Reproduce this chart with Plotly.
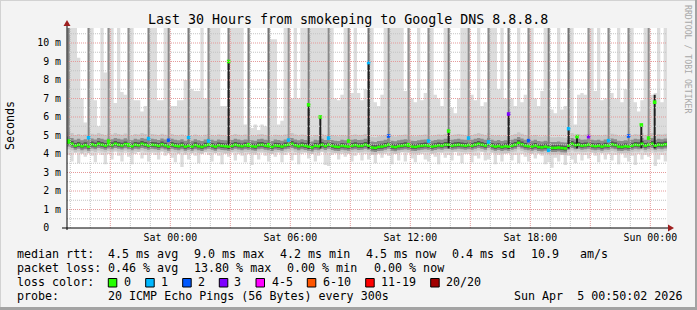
import plotly.graph_objects as go
import pandas as pd

# ---------------- data ----------------
TITLE = "Last 30 Hours from smokeping to Google DNS 8.8.8.8"
T_START = "2026-04-03 18:50:02"
T_END = "2026-04-05 00:50:02"
BIN_START = "2026-04-03 18:50"
BIN_FREQ = "10min"

# median rtt per 10-minute bin (ms), 180 bins
median_ms = [
    4.62, 4.55, 4.45, 4.50, 4.42, 4.48,
    4.40, 4.52, 4.47, 4.55, 4.50, 4.45,
    4.52, 4.48, 4.55, 4.50, 4.46, 4.53,
    4.47, 4.42, 4.50, 4.47, 4.55, 4.50,
    4.45, 4.50, 4.48, 4.44, 4.52, 4.46,
    4.40, 4.50, 4.45, 4.42, 4.48, 4.40,
    4.45, 4.40, 4.48, 4.42, 4.38, 4.46,
    4.50, 4.45, 4.40, 4.47, 4.44, 4.42,
    4.40, 4.44, 4.50, 4.46, 4.42, 4.47,
    4.45, 4.42, 4.40, 4.48, 4.50, 4.45,
    4.42, 4.38, 4.46, 4.44, 4.40, 4.47,
    4.50, 4.55, 4.47, 4.42, 4.48, 4.44,
    4.40, 4.36, 4.45, 4.42, 4.50, 4.43,
    4.50, 4.44, 4.40, 4.38, 4.45, 4.42,
    4.40, 4.45, 4.48, 4.43, 4.45, 4.50,
    4.45, 4.35, 4.33, 4.38, 4.40, 4.45,
    4.50, 4.40, 4.37, 4.42, 4.45, 4.48,
    4.45, 4.40, 4.38, 4.42, 4.45, 4.47,
    4.45, 4.40, 4.43, 4.47, 4.45, 4.50,
    4.50, 4.45, 4.48, 4.50, 4.47, 4.45,
    4.48, 4.45, 4.50, 4.55, 4.50, 4.45,
    4.55, 4.45, 4.40, 4.43, 4.38, 4.42,
    4.40, 4.45, 4.50, 4.60, 4.52, 4.45,
    4.42, 4.40, 4.45, 4.38, 4.36, 4.40,
    4.35, 4.33, 4.33, 4.35, 4.32, 4.30,
    4.45, 4.55, 4.48, 4.50, 4.45, 4.47,
    4.50, 4.45, 4.42, 4.45, 4.40, 4.46,
    4.45, 4.52, 4.48, 4.40, 4.38, 4.42,
    4.40, 4.45, 4.50, 4.48, 4.55, 4.45,
    4.50, 4.55, 4.45, 4.50, 4.48, 4.52,
]

# highest ping per bin (ms) - top of the light smoke (11 = beyond chart top)
smoke_hi_ms = [
    11, 11, 11, 9.2, 7.0, 5.7,
    11, 11, 6.9, 5.5, 11, 8.4,
    11, 11, 6.75, 11, 7.35, 7.2,
    11, 11, 6.9, 6.9, 6.3, 6.6,
    11, 11, 11, 6.9, 6.9, 11,
    11, 6.6, 6.6, 6.9, 6.9, 8.0,
    11, 7.5, 7.4, 7.4, 11, 7.0,
    11, 11, 11, 11, 6.6, 6.6,
    11, 11, 11, 11, 11, 5.6,
    11, 5.4, 5.6, 5.3, 5.6, 5.5,
    11, 10.2, 10.2, 5.6, 5.8, 11,
    11, 7.0, 11, 7.0, 11, 11,
    11, 11, 11, 11, 11, 11,
    11, 11, 7.0, 6.9, 7.2, 11,
    11, 7.3, 11, 7.3, 6.9, 7.5,
    11, 11, 6.8, 6.6, 7.2, 11,
    11, 11, 11, 11, 11, 7.4,
    11, 7.0, 6.8, 11, 6.9, 7.3,
    11, 11, 7.2, 7.0, 6.6, 11,
    11, 6.5, 6.2, 7.0, 11, 11,
    11, 7.2, 6.9, 11, 6.6, 6.8,
    11, 11, 11, 7.5, 11, 7.0,
    11, 7.0, 6.6, 11, 6.8, 7.2,
    11, 11, 7.0, 6.6, 7.4, 11,
    11, 6.4, 6.2, 11, 6.4, 6.6,
    11, 11, 5.6, 7.2, 7.3, 7.2,
    11, 11, 7.4, 11, 6.9, 7.0,
    11, 7.3, 7.0, 11, 6.8, 7.5,
    11, 11, 6.8, 6.3, 6.9, 11,
    11, 7.2, 7.3, 11, 6.8, 11,
]

# lowest ping per bin (ms) - bottom of the light smoke
smoke_lo_ms = [
    3.95, 3.60, 4.05, 3.50, 4.00, 3.85,
    4.10, 3.90, 3.55, 4.05, 3.95, 3.45,
    4.00, 3.70, 4.10, 3.90, 3.60, 4.05,
    3.85, 3.45, 4.00, 4.10, 3.75, 3.95,
    3.60, 4.05, 3.95, 3.70, 4.10, 3.90,
    4.05, 3.80, 3.55, 4.00, 3.30, 3.95,
    3.70, 4.05, 3.90, 3.50, 4.00, 4.10,
    3.95, 3.60, 4.05, 3.90, 3.45, 4.00,
    3.85, 4.10, 3.65, 4.00, 3.90, 3.55,
    4.00, 3.40, 3.95, 3.70, 4.05, 3.90,
    3.60, 4.00, 3.85, 4.10, 3.55, 3.95,
    4.05, 3.65, 3.95, 3.45, 4.00, 4.10,
    3.75, 4.05, 3.60, 3.90, 4.10, 3.40,
    3.35, 3.95, 4.05, 3.70, 4.00, 3.85,
    4.00, 3.60, 3.90, 4.10, 3.65, 4.00,
    3.70, 3.95, 3.50, 4.05, 3.80, 4.00,
    3.90, 3.45, 4.00, 3.65, 4.10, 3.60,
    4.05, 3.75, 3.55, 3.95, 4.00, 3.70,
    3.60, 4.00, 3.85, 3.45, 4.05, 3.80,
    3.95, 3.65, 4.10, 3.90, 3.50, 4.00,
    4.00, 3.55, 3.90, 3.75, 4.10, 3.65,
    3.70, 4.05, 3.45, 3.95, 3.60, 4.00,
    4.10, 3.65, 3.95, 3.50, 4.00, 3.85,
    3.60, 4.00, 3.75, 4.10, 3.90, 3.45,
    3.55, 3.25, 3.80, 3.60, 3.95, 3.40,
    3.90, 3.70, 3.50, 4.00, 3.65, 3.95,
    3.75, 4.05, 3.90, 3.55, 4.10, 3.70,
    4.00, 3.65, 3.95, 3.45, 4.05, 3.80,
    3.60, 3.90, 3.40, 4.00, 3.70, 3.95,
    3.85, 4.05, 3.35, 3.70, 3.95, 3.60,
]

# hourly outlier samples (some pings far above the chart)
spike_times = [
    "2026-04-03 18:55", "2026-04-03 19:55", "2026-04-03 20:55", "2026-04-03 21:55",
    "2026-04-03 22:55", "2026-04-03 23:55", "2026-04-04 00:55", "2026-04-04 01:55",
    "2026-04-04 02:55", "2026-04-04 03:55", "2026-04-04 04:55", "2026-04-04 05:55",
    "2026-04-04 06:55", "2026-04-04 07:55", "2026-04-04 08:55", "2026-04-04 09:55",
    "2026-04-04 10:55", "2026-04-04 11:55", "2026-04-04 12:55", "2026-04-04 13:55",
    "2026-04-04 14:55", "2026-04-04 15:55", "2026-04-04 16:55", "2026-04-04 17:55",
    "2026-04-04 18:55", "2026-04-04 19:55", "2026-04-04 20:55", "2026-04-04 21:55",
    "2026-04-04 22:55", "2026-04-04 23:55",
]
spike_median_ms = [
    4.70, 4.88, 4.70, 4.50, 4.83, 4.74, 4.90, 4.70, 9.00, 4.50,
    4.50, 4.75, 6.66, 4.86, 4.70, 8.94, 4.97, 4.50, 4.70, 5.24,
    4.86, 4.65, 6.16, 4.72, 4.20, 5.37, 4.94, 4.72, 4.97, 4.86,
]
spike_loss = [
    0, 1, 0, 0, 1, 2, 1, 1, 0, 0,
    0, 1, 0, 1, 0, 1, 2, 0, 1, 0,
    1, 1, 3, 2, 1, 1, 3, 1, 2, 0,
]
# share of the 20 pings above the chart top (controls smoke darkness)
spike_share = [
    0.60, 0.50, 0.40, 0.40, 0.55, 0.45, 0.60, 0.45, 0.55, 0.60,
    0.70, 0.35, 0.60, 0.45, 0.40, 0.70, 0.45, 0.35, 0.40, 0.60,
    0.40, 0.45, 0.60, 0.40, 0.60, 0.70, 0.35, 0.45, 0.45, 0.40,
]

# other slow samples
extra_times = ["2026-04-04 07:30", "2026-04-04 20:20", "2026-04-04 23:33", "2026-04-05 00:13"]
extra_top_ms = [6.0, 4.94, 5.57, 7.2]
extra_median_ms = [6.0, 4.94, 5.57, 6.8]

y_tickvals = [0, 1, 2, 3, 4, 5, 6, 7, 8, 9, 10]
y_ticktext = ["0  ", "1 m", "2 m", "3 m", "4 m", "5 m", "6 m", "7 m", "8 m", "9 m", "10 m"]
x_tickvals = ["2026-04-04 00:00", "2026-04-04 06:00", "2026-04-04 12:00",
              "2026-04-04 18:00", "2026-04-05 00:00"]
x_ticktext = ["Sat 00:00", "Sat 06:00", "Sat 12:00", "Sat 18:00", "Sun 00:00"]

loss_labels = ["0", "1", "2", "3", "4-5", "6-10", "11-19", "20/20"]
loss_colors = ["#26ff00", "#00b8ff", "#0059ff", "#7e00ff", "#ff00ff", "#ff5500", "#ff0000", "#a10000"]

rtt_stats = ["median rtt:", "4.5 ms avg", "9.0 ms max", "4.2 ms min", "4.5 ms now", "0.4 ms sd", "10.9", "am/s"]
loss_stats = ["packet loss:", "0.46 % avg", "13.80 % max", "0.00 % min", "0.00 % now"]
probe_text = ["probe:", "20 ICMP Echo Pings (56 Bytes) every 300s", "Sun Apr  5 00:50:02 2026"]

# ---------------- layout geometry (pixels) ----------------
W, H = 697, 310
L, R, T, B = 67, 30, 28, 82
PW, PH = W - L - R, H - T - B
Y_TOP = 10.81
MONO = "DejaVu Sans Mono"


def px(X):
    return (X - L) / PW


def py(Y):
    return (T + PH - Y) / PH


bins = pd.date_range(BIN_START, periods=len(median_ms), freq=BIN_FREQ)
edges = list(bins) + [pd.Timestamp(T_END)]


def step(vals):
    return list(vals) + [vals[-1]]


fig = go.Figure()


def band(lo, hi, color):
    fig.add_trace(go.Scatter(x=edges, y=step(lo), mode="lines", line=dict(width=0, shape="hv"),
                             hoverinfo="skip", showlegend=False))
    fig.add_trace(go.Scatter(x=edges, y=step(hi), mode="lines", line=dict(width=0, shape="hv"),
                             fill="tonexty", fillcolor=color, hoverinfo="skip", showlegend=False))


# smoke
band(smoke_lo_ms, smoke_hi_ms, "#dcdcdc")
band([m - 0.36 for m in median_ms], [m + 0.58 for m in median_ms], "#c6c6c6")
band([m - 0.22 for m in median_ms], [m + 0.32 for m in median_ms], "#8c8c8c")
band([m - 0.11 for m in median_ms], [m + 0.15 for m in median_ms], "#555555")

# hourly outlier columns
for t, share, med in zip(spike_times, spike_share, spike_median_ms):
    g = int(0xb4 - share * 0x5c)
    col = "#%02x%02x%02x" % (g, g, g)
    fig.add_trace(go.Scatter(x=[t, t], y=[4.5, 11], mode="lines", line=dict(width=2, color=col),
                             hoverinfo="skip", showlegend=False))
    if med > 5:
        fig.add_trace(go.Scatter(x=[t, t], y=[4.3, med], mode="lines",
                                 line=dict(width=2, color="#1e1e1e"), hoverinfo="skip", showlegend=False))

for t, top in zip(extra_times, extra_top_ms):
    fig.add_trace(go.Scatter(x=[t, t], y=[4.3, top], mode="lines", line=dict(width=2, color="#1e1e1e"),
                             hoverinfo="skip", showlegend=False))

# median (loss-coloured, no vertical connectors)
mx, my = [], []
for i, m in enumerate(median_ms):
    mx += [edges[i], edges[i + 1], None]
    my += [m, m, None]
fig.add_trace(go.Scatter(x=mx, y=my, mode="lines", line=dict(width=2.6, color=loss_colors[0]),
                         hoverinfo="skip", showlegend=False))

fig.add_trace(go.Scatter(x=spike_times + extra_times, y=spike_median_ms + extra_median_ms, mode="markers",
                         marker=dict(symbol="square", size=3.6, line=dict(width=0),
                                     color=[loss_colors[l] for l in spike_loss] + [loss_colors[0]] * len(extra_times)),
                         hoverinfo="skip", showlegend=False))

shapes = []
# grid on top of the graph (as rrdtool does)
for h in pd.date_range("2026-04-03 19:00", "2026-04-05 00:00", freq="1h"):
    major = h.hour % 3 == 0
    shapes.append(dict(type="line", xref="x", yref="y", x0=h, x1=h, y0=0, y1=Y_TOP, layer="above",
                       line=dict(width=1, dash="1px,1px", color="#e59a9a" if major else "#c4c4c4")))
for k in range(1, 22):
    v = k * 0.5
    major = k % 2 == 0
    shapes.append(dict(type="line", xref="x", yref="y", x0=T_START, x1=T_END, y0=v, y1=v, layer="above",
                       line=dict(width=1, dash="1px,1px", color="#e59a9a" if major else "#c4c4c4")))

# axes with arrows
shapes.append(dict(type="line", xref="paper", yref="paper", x0=px(62), x1=px(670), y0=py(228), y1=py(228),
                   line=dict(width=1, color="#000000"), layer="above"))
shapes.append(dict(type="line", xref="paper", yref="paper", x0=px(67), x1=px(67), y0=py(230), y1=py(24),
                   line=dict(width=1, color="#000000"), layer="above"))
shapes.append(dict(type="path", xref="paper", yref="paper", layer="above",
                   path="M %f,%f L %f,%f L %f,%f Z" % (px(668), py(224.5), px(674), py(228), px(668), py(231.5)),
                   fillcolor="#9e1f1f", line=dict(width=0)))
shapes.append(dict(type="path", xref="paper", yref="paper", layer="above",
                   path="M %f,%f L %f,%f L %f,%f Z" % (px(63.5), py(26), px(67), py(20), px(70.5), py(26)),
                   fillcolor="#9e1f1f", line=dict(width=0)))

# image frame
shapes.append(dict(type="line", xref="paper", yref="paper", x0=px(0.5), x1=px(0.5), y0=py(0), y1=py(H),
                   line=dict(width=1, color="#d2d2d2")))
shapes.append(dict(type="line", xref="paper", yref="paper", x0=px(0), x1=px(W), y0=py(0.5), y1=py(0.5),
                   line=dict(width=1, color="#d2d2d2")))
shapes.append(dict(type="line", xref="paper", yref="paper", x0=px(W - 1), x1=px(W - 1), y0=py(0), y1=py(H),
                   line=dict(width=2, color="#a3a3a3")))
shapes.append(dict(type="line", xref="paper", yref="paper", x0=px(0), x1=px(W), y0=py(H - 1.5), y1=py(H - 1.5),
                   line=dict(width=3, color="#a3a3a3")))

# loss colour swatches
swatch_x = [108.3, 145.7, 182.7, 219.3, 256, 307.3, 365.7, 430.7]
label_x = [123.3, 160, 196.7, 233.3, 270.7, 321.7, 380, 445]
for sx, c in zip(swatch_x, loss_colors):
    shapes.append(dict(type="rect", xref="paper", yref="paper", x0=px(sx), x1=px(sx + 8.5),
                       y0=py(287), y1=py(278.5), fillcolor=c, line=dict(width=1, color="#000000")))

ann = []


def text(s, X, Y, size=11.66, color="#000000", anchor="left", angle=0):
    ann.append(dict(text=s.replace(" ", "\u00a0"), x=px(X), y=py(Y), xref="paper", yref="paper",
                    showarrow=False, xanchor=anchor, yanchor="middle", textangle=angle,
                    font=dict(family=MONO, size=size, color=color), borderpad=0))


text(TITLE, 347.5, 19, size=13.3, anchor="center")
text("RRDTOOL / TOBI OETIKER", 688, 59, size=8.2, color="#a8a8a8", anchor="center", angle=90)
text("Seconds", 10, 126, size=11.66, anchor="center", angle=-90)

for s, X in zip(rtt_stats, [16, 107.3, 193.3, 279.3, 365, 451, 530, 579.3]):
    text(s, X, 254)
for s, X in zip(loss_stats, [16, 107.3, 193.3, 286, 372.7]):
    text(s, X, 268)
text("loss color:", 16, 282)
for s, X in zip(loss_labels, label_x):
    text(s, X, 282)
for s, X in zip(probe_text, [16, 107.3, 513.3]):
    text(s, X, 296)

fig.update_layout(
    width=W, height=H, margin=dict(l=L, r=R, t=T, b=B, pad=0),
    paper_bgcolor="#f3f3f3", plot_bgcolor="#ffffff",
    showlegend=False, hovermode=False,
    shapes=shapes, annotations=ann,
    xaxis=dict(type="date", range=[T_START, T_END], showgrid=False, zeroline=False, showline=False,
               tickvals=x_tickvals, ticktext=x_ticktext, ticks="", ticklabelstandoff=2,
               tickfont=dict(family=MONO, size=9.9, color="#000000")),
    yaxis=dict(range=[0, Y_TOP], showgrid=False, zeroline=False, showline=False,
               tickvals=y_tickvals, ticktext=[t.replace(" ", "\u00a0") for t in y_ticktext], ticks="",
               ticklabelstandoff=5, tickfont=dict(family=MONO, size=9.9, color="#000000")),
)

fig.write_html("out.html", config={"displayModeBar": False})
